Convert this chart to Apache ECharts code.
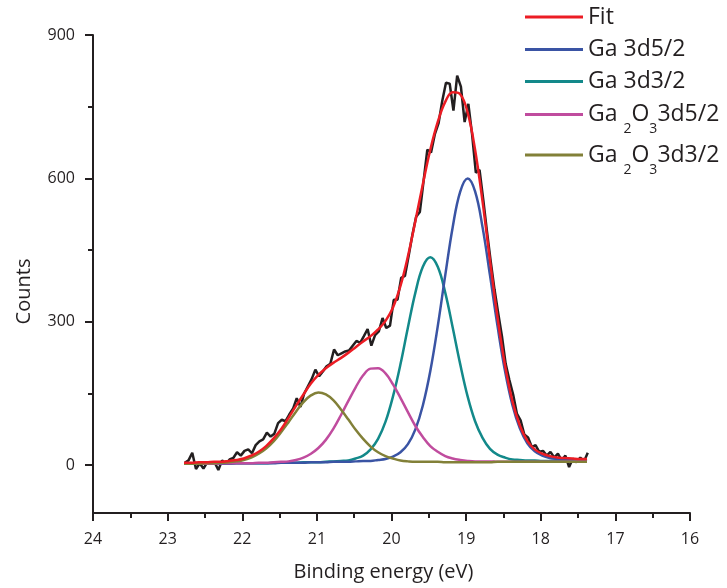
<!DOCTYPE html>
<html><head><meta charset="utf-8">
<script src="https://cdn.jsdelivr.net/npm/echarts@6/dist/echarts.min.js"></script>
<style>html,body{margin:0;padding:0;background:#fff}#c{width:727px;height:588px}</style>
</head><body><div id="c"></div>
<script>
// Binding energy grid of the fitted curves (eV)
const fitX = [22.78,22.68,22.58,22.48,22.38,22.28,22.18,22.08,21.98,21.88,21.78,21.68,21.58,21.48,21.38,21.28,21.18,21.08,20.98,20.88,20.78,20.68,20.58,20.48,20.38,20.28,20.18,20.08,19.98,19.88,19.78,19.68,19.58,19.48,19.38,19.28,19.18,19.08,18.98,18.88,18.78,18.68,18.58,18.48,18.38,18.28,18.18,18.08,17.98,17.88,17.78,17.68,17.58,17.48,17.38];
const fitY = [5,5,6,6,7,7,9,11,14,20,28,40,56,75,99,124,148,171,189,203,214,224,235,247,259,270,284,302,330,375,437,511,588,660,718,760,780,776,738,660,552,428,310,210,134,83,51,33,24,19,16,15,14,13,13];
const ga52 = [3,3,3,3,3,3,3,4,4,4,4,4,4,5,5,5,5,6,6,6,7,7,7,8,9,9,11,13,18,27,44,75,125,197,291,397,498,572,600,573,498,397,292,198,126,77,46,29,20,15,13,12,11,11,10];
const ga32 = [3,3,3,3,3,3,3,4,4,4,4,4,5,5,5,5,6,6,6,7,8,9,10,14,20,33,55,91,144,211,288,361,415,435,415,361,288,212,144,92,57,34,22,16,12,11,10,10,9,9,9,9,9,9,8];
const ox52 = [3,3,3,3,3,4,4,4,4,4,5,5,6,7,8,11,16,24,36,53,76,104,134,163,188,202,203,192,169,141,111,82,59,40,28,19,14,11,9,8,8,8,7,7,7,7,7,7,7,7,7,7,7,8,8];
const ox32 = [3,3,3,4,4,5,6,8,11,16,24,35,50,69,90,112,132,146,152,148,136,117,96,74,55,39,27,19,14,10,8,7,7,7,7,6,6,6,6,6,6,6,7,7,7,7,7,7,7,7,7,7,7,7,7];
// Measured spectrum
const rawX = [22.77,22.72,22.67,22.62,22.57,22.52,22.47,22.42,22.37,22.32,22.27,22.22,22.17,22.12,22.07,22.02,21.97,21.92,21.87,21.82,21.77,21.72,21.67,21.62,21.57,21.52,21.47,21.42,21.37,21.32,21.27,21.22,21.17,21.12,21.07,21.02,20.97,20.92,20.87,20.82,20.77,20.72,20.67,20.62,20.57,20.52,20.47,20.42,20.37,20.32,20.27,20.22,20.17,20.12,20.07,20.02,19.97,19.92,19.87,19.82,19.77,19.72,19.67,19.62,19.57,19.52,19.47,19.42,19.37,19.32,19.27,19.22,19.17,19.12,19.07,19.02,18.97,18.92,18.87,18.82,18.77,18.72,18.67,18.62,18.57,18.52,18.47,18.42,18.37,18.32,18.27,18.22,18.17,18.12,18.07,18.02,17.97,17.92,17.87,17.82,17.77,17.72,17.67,17.62,17.57,17.52,17.47,17.42,17.37];
const rawY = [5,10,26,-8,4,-7,6,3,6,-10,10,2,12,15,27,20,30,33,25,42,50,54,68,60,66,88,95,92,106,118,140,122,150,165,180,200,186,196,207,212,242,230,234,238,240,250,260,256,270,285,250,272,280,308,287,292,346,346,392,396,438,482,520,530,595,660,654,692,715,762,800,798,742,815,792,718,756,692,612,618,555,488,426,368,318,270,212,178,148,108,94,64,58,38,42,28,30,20,28,16,24,10,20,-4,14,6,16,8,26];
// Axis ticks
const yLabelTicks = [0,300,600,900];
const yMinorTicks = [150,450,750];
const names = ['Fit','Ga 3d5/2','Ga 3d3/2','Ga2O3 3d5/2','Ga2O3 3d3/2'];
const colors = ['#ec1c24','#3a54a4','#13898a','#c04c9e','#828038'];

const INK = '#231f20';
const FONT = 'Open Sans';
const pairs = (xs, ys) => xs.map((x, i) => [x, ys[i]]);

const legendLabel = {
  'Fit': '{n|Fit}',
  'Ga 3d5/2': '{n|Ga 3d5/2}',
  'Ga 3d3/2': '{n|Ga 3d3/2}',
  'Ga2O3 3d5/2': '{n|Ga }{s|2}{n|O}{s|3}{n|3d5/2}',
  'Ga2O3 3d3/2': '{n|Ga }{s|2}{n|O}{s|3}{n|3d3/2}'
};
const legendTops = [5.5, 38, 70, 92.5, 133];
const legends = names.map((nm, i) => ({
  data: [nm], left: 525, top: legendTops[i], padding: 0, orient: 'vertical',
  icon: 'rect', itemWidth: 58, itemHeight: 3, selectedMode: false,
  formatter: n => legendLabel[n],
  textStyle: {
    color: INK, fontFamily: FONT, fontSize: 23,
    rich: {
      n: {fontSize: 23, lineHeight: 26, color: INK, fontFamily: FONT, verticalAlign: 'middle'},
      s: {fontSize: 14, lineHeight: 14, color: INK, fontFamily: FONT, verticalAlign: 'middle', padding: [30,0,0,0]}
    }
  }
}));

const compData = [fitY, ga52, ga32, ox52, ox32];
const mk = (i) => ({
  name: names[i], type: 'line', data: pairs(fitX, compData[i]), smooth: 0.4,
  symbol: 'none', lineStyle: {color: colors[i], width: 2.5}, itemStyle: {color: colors[i]},
  silent: true, animation: false
});

const chart = echarts.init(document.getElementById('c'), null, {renderer: 'canvas'});
chart.setOption({
  animation: false,
  backgroundColor: '#fff',
  grid: {left: 93, right: 37, top: 35, bottom: 75, containLabel: false},
  legend: legends,
  xAxis: {
    type: 'value', min: 16, max: 24, interval: 1, inverse: true,
    name: 'Binding energy (eV)', nameLocation: 'middle', nameGap: 49,
    nameTextStyle: {color: INK, fontFamily: FONT, fontSize: 20, padding: [0, 16, 0, 0]},
    axisLine: {onZero: false, lineStyle: {color: INK, width: 2}},
    axisTick: {length: 8, lineStyle: {color: INK, width: 2}},
    minorTick: {show: true, splitNumber: 2, length: 5, lineStyle: {color: INK, width: 2}},
    axisLabel: {color: INK, fontFamily: FONT, fontSize: 16, margin: 18},
    splitLine: {show: false}
  },
  yAxis: [{
    type: 'value', min: -100, max: 900,
    name: 'Counts', nameLocation: 'middle', nameGap: 59,
    nameTextStyle: {color: INK, fontFamily: FONT, fontSize: 20, padding: [0, 35, 0, 0]},
    axisLine: {show: true, onZero: false, lineStyle: {color: INK, width: 2}},
    axisTick: {show: true, length: 8, customValues: yLabelTicks, lineStyle: {color: INK, width: 2}},
    axisLabel: {color: INK, fontFamily: FONT, fontSize: 16, margin: 18, customValues: yLabelTicks},
    splitLine: {show: false}
  }, {
    type: 'value', min: -100, max: 900, position: 'left',
    axisLine: {show: false, onZero: false},
    axisTick: {show: true, length: 5, customValues: yMinorTicks, lineStyle: {color: INK, width: 2}},
    axisLabel: {show: false},
    splitLine: {show: false}
  }],
  series: [
    {name: 'Data', type: 'line', data: pairs(rawX, rawY), symbol: 'none',
     lineStyle: {color: INK, width: 2.5}, silent: true, animation: false},
    mk(2), mk(1), mk(3), mk(4), mk(0)
  ]
});
</script></body></html>
